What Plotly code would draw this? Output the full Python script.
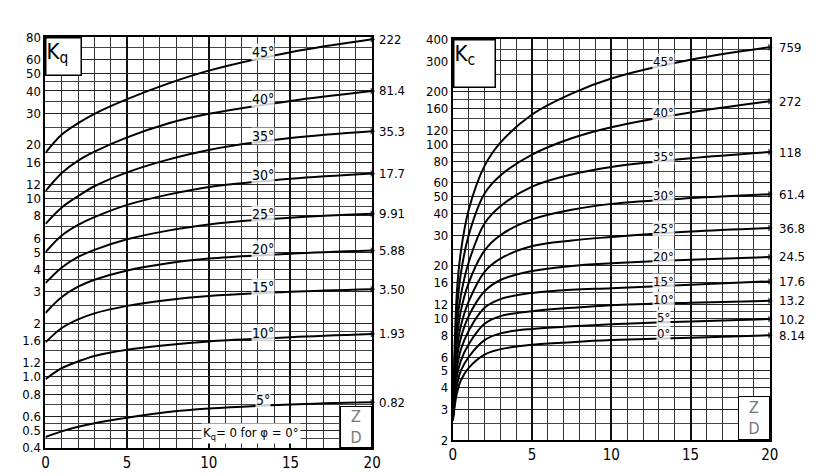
import math
import plotly.graph_objects as go

# ---------------- data ----------------
ZD_Q = [0, 1, 2, 3, 5, 7.5, 10, 15, 20]
kq_45 = [18, 22.8, 26.4, 29.8, 36, 44, 52, 66, 78]
kq_40 = [11, 13.9, 16.3, 18.3, 22, 26.3, 29.8, 35.2, 40]
kq_35 = [7.2, 8.9, 10.3, 11.7, 14.0, 16.5, 18.7, 21.8, 23.8]
kq_30 = [5.0, 6.2, 7.1, 7.85, 9.2, 10.5, 11.6, 12.9, 13.8]
kq_25 = [3.35, 4.1, 4.7, 5.15, 5.9, 6.6, 7.15, 7.8, 8.2]
kq_20 = [2.28, 2.8, 3.2, 3.5, 3.95, 4.33, 4.6, 4.9, 5.1]
kq_15 = [1.56, 1.88, 2.1, 2.27, 2.5, 2.7, 2.84, 3.0, 3.1]
kq_10 = [0.97, 1.12, 1.22, 1.31, 1.42, 1.51, 1.58, 1.67, 1.74]
kq_05 = [0.46, 0.495, 0.525, 0.55, 0.59, 0.635, 0.665, 0.70, 0.72]
kq_angles = ["45°", "40°", "35°", "30°", "25°", "20°", "15°", "10°", "5°"]
kq_end_labels = ["222", "81.4", "35.3", "17.7", "9.91", "5.88", "3.50", "1.93", "0.82"]

ZD_C = [0, 0.25, 0.5, 1, 2, 3, 5, 7.5, 10, 15, 20]
kc_45 = [2.6, 14, 24, 42, 75, 102, 148, 195, 238, 305, 360]
kc_40 = [2.6, 11, 18, 30, 52, 66, 87, 108, 125, 152, 176]
kc_35 = [2.6, 9, 13.5, 21, 35, 44, 57, 67, 74, 83, 90]
kc_30 = [2.6, 7.5, 11, 16, 24.5, 30, 37, 42, 45.4, 49, 51.6]
kc_25 = [2.6, 6.5, 9, 12.5, 18.5, 22, 26, 28, 29.3, 31.5, 33]
kc_20 = [2.6, 5.8, 7.7, 10.3, 14.3, 16.6, 18.7, 20, 20.7, 21.7, 22.5]
kc_15 = [2.6, 5.1, 6.6, 8.5, 11.5, 12.9, 14.0, 14.6, 14.9, 15.6, 16.3]
kc_10 = [2.6, 4.6, 5.7, 7.1, 9.3, 10.3, 11.0, 11.5, 11.9, 12.3, 12.6]
kc_05 = [2.6, 4.1, 5.0, 6.0, 7.5, 8.2, 8.7, 9.0, 9.25, 9.6, 9.9]
kc_00 = [2.6, 3.7, 4.4, 5.2, 6.2, 6.65, 7.05, 7.3, 7.5, 7.75, 8.0]
kc_angles = ["45°", "40°", "35°", "30°", "25°", "20°", "15°", "10°", "5°", "0°"]
kc_end_labels = ["759", "272", "118", "61.4", "36.8", "24.5", "17.6", "13.2", "10.2", "8.14"]

kq_tickvals = [0.4, 0.5, 0.6, 0.8, 1.0, 1.2, 1.6, 2, 3, 4, 5, 6, 8, 10, 12, 16, 20, 30, 40, 50, 60, 80]
kq_ticktext = ["0.4", "0.5", "0.6", "0.8", "1.0", "1.2", "1.6", "2", "3", "4", "5", "6", "8", "10",
               "12", "16", "20", "30", "40", "50", "60", "80"]
kq_minor = [0.45, 0.55, 0.7, 0.9, 1.1, 1.4, 1.8, 2.5, 3.5, 4.5, 7, 9, 11, 14, 18, 25, 35, 45, 70]
kc_tickvals = [2, 3, 4, 5, 6, 8, 10, 12, 16, 20, 30, 40, 50, 60, 80, 100, 120, 160, 200, 300, 400]
kc_ticktext = [str(v) for v in kc_tickvals]
kc_minor = [2.5, 3.5, 4.5, 7, 9, 11, 14, 18, 25, 35, 45, 70, 90, 140, 180, 250, 350]

# ---------------- figure ----------------
W, H = 817, 475
FONT = "Liberation Sans Narrow, DejaVu Sans Condensed, Arial Narrow, sans-serif"
fig = go.Figure()

kq_series = [kq_45, kq_40, kq_35, kq_30, kq_25, kq_20, kq_15, kq_10, kq_05]
kc_series = [kc_45, kc_40, kc_35, kc_30, kc_25, kc_20, kc_15, kc_10, kc_05, kc_00]


def interp_log(xs, ys, x):
    for i in range(len(xs) - 1):
        if xs[i] <= x <= xs[i + 1]:
            t = (x - xs[i]) / (xs[i + 1] - xs[i])
            return 10 ** (math.log10(ys[i]) * (1 - t) + math.log10(ys[i + 1]) * t)
    return ys[-1]


def end_marker(n):
    return dict(size=[0] * (n - 1) + [6], symbol="triangle-right", color="black", line=dict(width=0))


annotations = []
for ys, ang, lab in zip(kq_series, kq_angles, kq_end_labels):
    fig.add_trace(go.Scatter(x=ZD_Q, y=ys, mode="lines+markers", xaxis="x", yaxis="y",
                             line=dict(color="black", width=2, shape="spline", smoothing=1.0),
                             marker=end_marker(len(ys)), cliponaxis=False,
                             showlegend=False, hoverinfo="skip"))
    annotations.append(dict(x=13.3, y=math.log10(interp_log(ZD_Q, ys, 13.3)), xref="x", yref="y",
                            text=ang, showarrow=False, yanchor="bottom", yshift=-3,
                            font=dict(size=14, family=FONT, color="black"),
                            bgcolor="rgba(255,255,255,0.8)", borderpad=0))
    annotations.append(dict(x=20, y=math.log10(ys[-1]), xref="x", yref="y", text=lab,
                            showarrow=False, xanchor="left", xshift=5,
                            font=dict(size=13, family=FONT, color="black")))

for ys, ang, lab in zip(kc_series, kc_angles, kc_end_labels):
    fig.add_trace(go.Scatter(x=ZD_C, y=ys, mode="lines+markers", xaxis="x2", yaxis="y2",
                             line=dict(color="black", width=2, shape="spline", smoothing=1.0),
                             marker=end_marker(len(ys)), cliponaxis=False,
                             showlegend=False, hoverinfo="skip"))
    annotations.append(dict(x=13.3, y=math.log10(interp_log(ZD_C, ys, 13.3)), xref="x2", yref="y2",
                            text=ang, showarrow=False, yanchor="bottom", yshift=-4,
                            font=dict(size=13, family=FONT, color="black"),
                            bgcolor="rgba(255,255,255,0.8)", borderpad=0))
    annotations.append(dict(x=20, y=math.log10(ys[-1]), xref="x2", yref="y2", text=lab,
                            showarrow=False, xanchor="left", xshift=7,
                            font=dict(size=13, family=FONT, color="black")))

# corner boxes
annotations.append(dict(x=0, y=math.log10(80), xref="x", yref="y", text="K<sub>q</sub>",
                        showarrow=False, xanchor="left", yanchor="top", width=34, height=36,
                        align="left", valign="top",
                        bgcolor="white", bordercolor="black", borderwidth=1.5, borderpad=0,
                        font=dict(size=22, family=FONT, color="black")))
annotations.append(dict(x=0, y=math.log10(400), xref="x2", yref="y2", text="K<sub>c</sub>",
                        showarrow=False, xanchor="left", yanchor="top", width=40, height=46,
                        align="left", valign="top",
                        bgcolor="white", bordercolor="black", borderwidth=1.5, borderpad=0,
                        font=dict(size=22, family=FONT, color="black")))
annotations.append(dict(x=12.6, y=math.log10(0.48), xref="x", yref="y",
                        text="K<sub>q</sub>= 0 for φ = 0°", showarrow=False,
                        bgcolor="white", borderpad=1,
                        font=dict(size=13, family=FONT, color="black")))
annotations.append(dict(x=20, y=math.log10(0.4), xref="x", yref="y", text="Z<br>D",
                        showarrow=False, xanchor="right", yanchor="bottom", width=30, height=40,
                        bgcolor="white", bordercolor="black", borderwidth=1, borderpad=0,
                        font=dict(size=16, family=FONT, color="#777")))
annotations.append(dict(x=20, y=math.log10(2), xref="x2", yref="y2", text="Z<br>D",
                        showarrow=False, xanchor="right", yanchor="bottom", width=30, height=42,
                        bgcolor="white", bordercolor="black", borderwidth=1, borderpad=0,
                        font=dict(size=16, family=FONT, color="#777")))

shapes = [
    dict(type="line", xref="paper", yref="paper", x0=341 / W, x1=359 / W,
         y0=(H - 427) / H, y1=(H - 427) / H, line=dict(color="#777", width=1.2)),
    dict(type="line", xref="paper", yref="paper", x0=747 / W, x1=765 / W,
         y0=(H - 418) / H, y1=(H - 418) / H, line=dict(color="#777", width=1.2)),
]


def xax(domain):
    return dict(domain=domain, range=[0, 20], tickmode="linear", tick0=0, dtick=5,
                showgrid=True, gridcolor="#111", gridwidth=2,
                minor=dict(dtick=1, tick0=0, showgrid=True, gridcolor="#333", gridwidth=1),
                showline=True, linecolor="black", linewidth=2, mirror=True,
                zeroline=False, ticks="", ticklen=0,
                tickfont=dict(size=15, family=FONT, color="black"))


def yax(domain, lo, hi, tv, tt, mv, anchor):
    return dict(domain=domain, type="log", range=[math.log10(lo), math.log10(hi)],
                tickmode="array", tickvals=tv, ticktext=tt,
                showgrid=True, gridcolor="#222", gridwidth=1.3,
                minor=dict(tickmode="array", tickvals=mv, showgrid=True, gridcolor="#444", gridwidth=1),
                showline=True, linecolor="black", linewidth=2, mirror=True,
                zeroline=False, ticks="", anchor=anchor,
                tickfont=dict(size=13, family=FONT, color="black"))


fig.update_layout(
    width=W, height=H,
    margin=dict(l=0, r=0, t=0, b=0),
    paper_bgcolor="white", plot_bgcolor="white",
    xaxis=dict(xax([34 / W, 366 / W]), anchor="y"),
    yaxis=yax([(H - 447) / H, (H - 23) / H], 0.4, 80, kq_tickvals, kq_ticktext, kq_minor, "x"),
    xaxis2=dict(xax([448 / W, 770 / W]), anchor="y2"),
    yaxis2=yax([(H - 439) / H, (H - 25) / H], 2, 400, kc_tickvals, kc_ticktext, kc_minor, "x2"),
    annotations=annotations,
    shapes=shapes,
    showlegend=False,
)

fig.write_html("out.html")
